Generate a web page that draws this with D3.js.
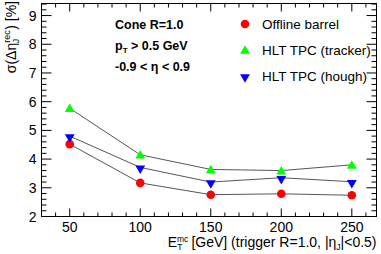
<!DOCTYPE html>
<html>
<head>
<meta charset="utf-8">
<script src="https://cdn.jsdelivr.net/npm/d3@7"></script>
<style>
  body { margin: 0; background: #fff; }
  svg { display: block; font-family: "Liberation Sans", Arial, sans-serif; }
</style>
</head>
<body>
<svg id="canvas" width="381" height="254"></svg>
<script>
'use strict';

/* chart values */
var energies = [50, 100, 150, 200, 250];
var offlineBarrel = [4.52, 3.17, 2.76, 2.79, 2.74];
var hltTracker = [5.77, 4.15, 3.64, 3.6, 3.8];
var hltHough = [4.8, 3.71, 3.2, 3.35, 3.21];
var seriesNames = ['Offline barrel', 'HLT TPC (tracker)', 'HLT TPC (hough)'];
var yTicks = [2, 3, 4, 5, 6, 7, 8, 9];
var xTicks = [50, 100, 150, 200, 250];

var svg = d3.select('#canvas');
var padLeft = 41.5, padRight = 376.5, padTop = 3.5, padBottom = 216.5;

var x = d3.scaleLinear().domain([30, 267.5]).range([padLeft, padRight]);
var y = d3.scaleLinear().domain([2, 9.42]).range([padBottom, padTop]);

/* minor tick values */
var xMinor = d3.range(40, 267, 10).filter(function(v){ return v % 50 !== 0; });
var yMinor = d3.range(2, 9.42, 0.2).map(function(v){ return +v.toFixed(1); })
  .filter(function(v){ return Math.abs(v - Math.round(v)) > 1e-6; });

var g = svg.append('g').attr('stroke', '#000').attr('stroke-width', 1);

/* bottom and top ticks */
xTicks.forEach(function(v){
  g.append('line').attr('x1', x(v)).attr('x2', x(v)).attr('y1', padBottom).attr('y2', padBottom - 8);
  g.append('line').attr('x1', x(v)).attr('x2', x(v)).attr('y1', padTop).attr('y2', padTop + 8);
});
xMinor.forEach(function(v){
  g.append('line').attr('x1', x(v)).attr('x2', x(v)).attr('y1', padBottom).attr('y2', padBottom - 4);
  g.append('line').attr('x1', x(v)).attr('x2', x(v)).attr('y1', padTop).attr('y2', padTop + 4);
});
/* left and right ticks */
yTicks.forEach(function(v){
  g.append('line').attr('x1', padLeft).attr('x2', padLeft + 10).attr('y1', y(v)).attr('y2', y(v));
  g.append('line').attr('x1', padRight).attr('x2', padRight - 10).attr('y1', y(v)).attr('y2', y(v));
});
yMinor.forEach(function(v){
  g.append('line').attr('x1', padLeft).attr('x2', padLeft + 5).attr('y1', y(v)).attr('y2', y(v));
  g.append('line').attr('x1', padRight).attr('x2', padRight - 5).attr('y1', y(v)).attr('y2', y(v));
});

/* frame */
svg.append('rect')
  .attr('x', padLeft).attr('y', padTop)
  .attr('width', padRight - padLeft).attr('height', padBottom - padTop)
  .attr('fill', 'none').attr('stroke', '#000');

/* tick labels */
svg.append('g').selectAll('text').data(xTicks).enter().append('text')
  .attr('x', function(d){ return x(d); })
  .attr('y', padBottom + 15)
  .attr('text-anchor', 'middle')
  .attr('font-size', 14)
  .text(function(d){ return d; });

svg.append('g').selectAll('text').data(yTicks).enter().append('text')
  .attr('x', padLeft - 5)
  .attr('y', function(d){ return y(d) + 5; })
  .attr('text-anchor', 'end')
  .attr('font-size', 14)
  .text(function(d){ return d; });

/* axis titles */
var xt = svg.append('text')
  .attr('x', padRight)
  .attr('y', 247)
  .attr('text-anchor', 'end')
  .attr('font-size', 14);
xt.append('tspan').text('E');
xt.append('tspan').attr('font-size', 8.5).attr('dy', -5).text('mc');
xt.append('tspan').attr('font-size', 8.5).attr('dx', -11).attr('dy', 8).text('T');
xt.append('tspan').attr('dy', -3).attr('dx', 5).text(' [GeV] (trigger R=1.0, |η');
xt.append('tspan').attr('font-size', 8.5).attr('dy', 3).text('J');
xt.append('tspan').attr('dy', -3).text('|<0.5)');

var yt = svg.append('text')
  .attr('transform', 'translate(16,0) rotate(-90)')
  .attr('x', -1)
  .attr('y', 0)
  .attr('text-anchor', 'end')
  .attr('font-size', 14);
yt.append('tspan').text('σ(Δη');
yt.append('tspan').attr('font-size', 9).attr('dy', -6).text('rec');
yt.append('tspan').attr('font-size', 9).attr('dx', -13).attr('dy', 9).text('J');
yt.append('tspan').attr('dy', -3).attr('dx', 9).text(') [%]');

/* info text */
var info = svg.append('g').attr('font-size', 12.5).attr('font-weight', 'bold');
info.append('text').attr('x', 115).attr('y', 29).text('Cone R=1.0');
var pt = info.append('text').attr('x', 115).attr('y', 50);
pt.append('tspan').text('p');
pt.append('tspan').attr('font-size', 8).attr('dy', 3).text('T');
pt.append('tspan').attr('dy', -3).text(' > 0.5 GeV');
info.append('text').attr('x', 115).attr('y', 71).text('-0.9 < η < 0.9');

/* series */
var series = [
  {name: seriesNames[0], values: offlineBarrel, color: '#ff0000', shape: 'circle'},
  {name: seriesNames[1], values: hltTracker, color: '#00ff00', shape: 'up'},
  {name: seriesNames[2], values: hltHough, color: '#0000ff', shape: 'down'}
];

function marker(sel, s){
  if( s.shape === 'circle' ){
    sel.append('circle').attr('r', 4.3).attr('fill', s.color);
  } else {
    var sym = d3.symbol().type(d3.symbolTriangle).size(42)();
    sel.append('path').attr('d', sym).attr('fill', s.color)
      .attr('transform', s.shape === 'down' ? 'rotate(180) translate(0,-1)' : 'translate(0,1)');
  }
}

var line = d3.line()
  .x(function(d, i){ return x(energies[i]); })
  .y(function(d){ return y(d); });

series.forEach(function(s){
  svg.append('path')
    .attr('d', line(s.values))
    .attr('fill', 'none')
    .attr('stroke', '#555')
    .attr('stroke-width', 1);
});

series.forEach(function(s){
  s.values.forEach(function(v, i){
    var m = svg.append('g').attr('transform', 'translate(' + x(energies[i]) + ',' + y(v) + ')');
    marker(m, s);
  });
});

/* legend */
var legendY = [24, 50, 76];
series.forEach(function(s, i){
  var lg = svg.append('g').attr('transform', 'translate(245,' + legendY[i] + ')');
  marker(lg, s);
  lg.append('text').attr('x', 17).attr('y', 5).attr('font-size', 13.5).text(s.name);
});
</script>
</body>
</html>
